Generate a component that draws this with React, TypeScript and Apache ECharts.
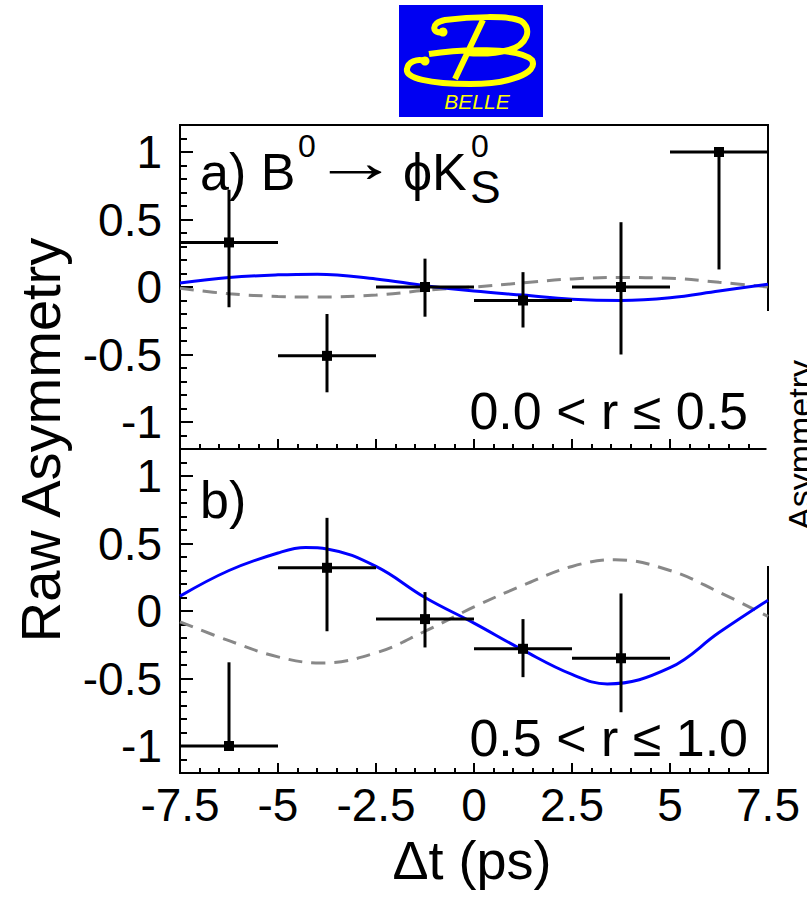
import React, { useEffect, useRef } from "react";
import * as echarts from "echarts";

// ---- data ----
const binCenters = [-6.25, -3.75, -1.25, 1.25, 3.75, 6.25];
const binHalfWidth = 1.25;

const topValues = [0.33, -0.51, 0.0, -0.1, 0.0, 1.0];
const topLower = [-0.15, -0.78, -0.22, -0.3, -0.5, 0.13];
const topUpper = [0.72, -0.2, 0.21, 0.11, 0.48, 1.0];

const bottomValues = [-1.0, 0.32, -0.06, -0.28, -0.35];
const bottomLower = [-1.0, -0.15, -0.27, -0.49, -0.75];
const bottomUpper = [-0.38, 0.69, 0.14, -0.06, 0.13];

const topFitX = [-7.5, -6.25, -5, -4, -2.5, -1.25, 0, 1.25, 2.5, 3.75, 5, 6.25, 7.5];
const topFitY = [0.03, 0.07, 0.09, 0.095, 0.06, 0.01, -0.03, -0.06, -0.09, -0.1, -0.08, -0.03, 0.02];
const topNullX = [-7.5, -6.25, -5, -4, -2.5, -1.25, 0, 1.25, 2.5, 3.75, 5, 6.25, 7.5];
const topNullY = [-0.01, -0.05, -0.07, -0.075, -0.06, -0.025, 0.0, 0.03, 0.06, 0.07, 0.065, 0.035, 0.0];

const bottomFitX = [-7.5, -6.25, -5, -4.3, -3.75, -2.5, -1.25, 0, 1.25, 2.5, 3.4, 5, 6.25, 7.5];
const bottomFitY = [0.11, 0.3, 0.43, 0.47, 0.46, 0.33, 0.1, -0.09, -0.29, -0.47, -0.54, -0.42, -0.16, 0.08];
const bottomNullX = [-7.5, -6.25, -5, -3.9, -2.5, -1.25, 0, 1.25, 2.5, 3.6, 5, 6.25, 7.5];
const bottomNullY = [-0.08, -0.22, -0.34, -0.385, -0.31, -0.15, 0.03, 0.19, 0.33, 0.38, 0.3, 0.14, -0.04];

const yMajorTicks = [-1, -0.5, 0, 0.5, 1];
const yMinorTicks = [-1.1, -0.9, -0.8, -0.7, -0.6, -0.4, -0.3, -0.2, -0.1, 0.1, 0.2, 0.3, 0.4, 0.6, 0.7, 0.8, 0.9, 1.1];

const FONT = '"Liberation Sans", Arial, Helvetica, sans-serif';

const belleD =
  "M 44 27 C 34 30, 30 18, 46 15 C 70 12, 110 10, 122 16 C 134 24, 128 40, 110 45 C 95 49, 80 49, 68 48 " +
  "M 84 15 L 56 74 " +
  "M 30 49 C 60 44, 120 42, 133 55 C 140 68, 110 79, 71 79 C 30 79, 6 73, 8 64 C 9 57, 18 53, 26 56";

let registered = false;

function zip(xs: number[], ys: number[]) {
  return xs.map((x, i) => [x, ys[i]]);
}

function errRows(centers: number[], vals: number[], lo: number[], hi: number[]) {
  return vals.map((v, i) => [centers[i], v, centers[i] - binHalfWidth, centers[i] + binHalfWidth, lo[i], hi[i]]);
}

const renderErr = (params: any, api: any) => {
  const x = api.value(0), y = api.value(1);
  const p = api.coord([x, y]);
  const pl = api.coord([api.value(2), y]);
  const ph = api.coord([api.value(3), y]);
  const pyl = api.coord([x, api.value(4)]);
  const pyh = api.coord([x, api.value(5)]);
  const st = { stroke: "#000", lineWidth: 3 };
  return {
    type: "group",
    children: [
      { type: "line", shape: { x1: pl[0], y1: p[1], x2: ph[0], y2: p[1] }, style: st },
      { type: "line", shape: { x1: p[0], y1: pyl[1], x2: p[0], y2: pyh[1] }, style: st },
      { type: "rect", shape: { x: p[0] - 5, y: p[1] - 5, width: 10, height: 10 }, style: { fill: "#000" } },
    ],
  };
};

function xAxisCfg(gridIndex: number, showLabels: boolean) {
  return {
    type: "value",
    gridIndex,
    min: -7.5,
    max: 7.5,
    interval: 2.5,
    position: "bottom",
    axisLine: { show: false, onZero: false },
    axisTick: { show: true, inside: true, length: 10, lineStyle: { color: "#000", width: 2 } },
    minorTick: { show: true, splitNumber: 5, length: 5, lineStyle: { color: "#000", width: 2 } },
    splitLine: { show: false },
    minorSplitLine: { show: false },
    axisLabel: {
      show: showLabels,
      fontSize: 46,
      fontFamily: FONT,
      color: "#000",
      margin: 9,
      showMinLabel: true,
      showMaxLabel: true,
      hideOverlap: false,
    },
  };
}

function yAxesCfg(gridIndex: number) {
  return [
    {
      type: "value",
      gridIndex,
      min: -1.2,
      max: 1.2,
      position: "left",
      axisLine: { show: false, onZero: false },
      splitLine: { show: false },
      axisTick: { show: true, inside: true, length: 13, customValues: yMajorTicks, lineStyle: { color: "#000", width: 2 } },
      axisLabel: { show: true, customValues: yMajorTicks, fontSize: 46, fontFamily: FONT, color: "#000", margin: 18 },
    },
    {
      type: "value",
      gridIndex,
      min: -1.2,
      max: 1.2,
      position: "left",
      axisLine: { show: false, onZero: false },
      splitLine: { show: false },
      axisTick: { show: true, inside: true, length: 7, customValues: yMinorTicks, lineStyle: { color: "#000", width: 2 } },
      axisLabel: { show: false },
    },
  ];
}

function txt(text: string, x: number, y: number, size: number, extra: any = {}) {
  return {
    type: "text",
    x,
    y,
    z: 20,
    style: {
      text,
      fontSize: size,
      fontFamily: FONT,
      fill: "#000",
      align: "left",
      verticalAlign: "middle",
      ...(extra.style || {}),
    },
    ...(extra.el || {}),
  };
}

function curve(xi: number, yi: number, xs: number[], ys: number[], dashed: boolean) {
  return {
    type: "line",
    xAxisIndex: xi,
    yAxisIndex: yi,
    data: zip(xs, ys),
    smooth: 0.4,
    showSymbol: false,
    symbol: "none",
    lineStyle: dashed ? { color: "#888", width: 3, type: [14, 9] } : { color: "#0000ff", width: 3 },
    z: dashed ? 2 : 3,
  };
}

export default function App() {
  const ref = useRef<HTMLDivElement>(null);
  useEffect(() => {
    if (!ref.current) return;
    if (!registered) {
      echarts.graphic.registerShape("belleB", echarts.graphic.extendPath(belleD, {}));
      registered = true;
    }
    const chart = echarts.init(ref.current, null, { renderer: "svg" });
    const grids = [
      { left: 180, top: 125, width: 588, height: 324 },
      { left: 180, top: 449, width: 588, height: 324 },
    ].map((g) => ({ ...g, show: true, borderColor: "#000", borderWidth: 2, backgroundColor: "transparent", containLabel: false, outerBoundsMode: "none" }));

    const option: any = {
      animation: false,
      backgroundColor: "#fff",
      grid: grids,
      xAxis: [xAxisCfg(0, false), xAxisCfg(1, true)],
      yAxis: [...yAxesCfg(0), ...yAxesCfg(1)],
      series: [
        curve(0, 0, topNullX, topNullY, true),
        curve(0, 0, topFitX, topFitY, false),
        {
          type: "custom", xAxisIndex: 0, yAxisIndex: 0, renderItem: renderErr, z: 5,
          data: errRows(binCenters, topValues, topLower, topUpper), encode: { x: [0, 2, 3], y: [1, 4, 5] },
        },
        curve(1, 2, bottomNullX, bottomNullY, true),
        curve(1, 2, bottomFitX, bottomFitY, false),
        {
          type: "custom", xAxisIndex: 1, yAxisIndex: 2, renderItem: renderErr, z: 5,
          data: errRows(binCenters, bottomValues, bottomLower, bottomUpper), encode: { x: [0, 2, 3], y: [1, 4, 5] },
        },
      ],
      graphic: [
        // Belle logo
        { type: "rect", z: 20, shape: { x: 399, y: 5, width: 144, height: 112 }, style: { fill: "#0000f2" } },
        { type: "belleB", z: 21, x: 399, y: 5, style: { stroke: "#ffff00", lineWidth: 6, fill: null } },
        { type: "circle", z: 21, shape: { cx: 399 + 44, cy: 5 + 27, r: 4.5 }, style: { fill: "#ffff00" } },
        { type: "circle", z: 21, shape: { cx: 399 + 26, cy: 5 + 56, r: 4.5 }, style: { fill: "#ffff00" } },
        txt("BELLE", 477, 101, 21, { style: { fill: "#ffff00", fontStyle: "italic", align: "center" }, el: { z: 21 } }),
        // panel a label
        txt("a) B", 200, 172, 52),
        txt("0", 298, 146, 32),
        txt("\u2192", 312, 162, 58, { el: { scaleX: 1.5 } }),
        txt("\u03d5K", 403, 172, 52),
        txt("0", 471, 146, 32),
        txt("S", 470, 187, 46),
        txt("0.0 < r \u2264 0.5", 748, 411, 52, { style: { align: "right" } }),
        // panel b
        txt("b)", 200, 500, 52),
        txt("0.5 < r \u2264 1.0", 748, 738, 52, { style: { align: "right" } }),
        // axis titles
        txt("Raw Asymmetry", 40, 440, 56, { style: { align: "center" }, el: { rotation: Math.PI / 2 } }),
        txt("\u0394t (ps)", 472, 860, 54, { style: { align: "center" } }),
        // neighbouring figure overlap at the right edge
        { type: "rect", z: 30, shape: { x: 766.5, y: 311, width: 41, height: 255 }, style: { fill: "#fff" } },
        txt("Asymmetry", 800, 445, 34, { style: { align: "center" }, el: { rotation: Math.PI / 2, z: 31 } }),
      ],
    };
    chart.setOption(option);
    return () => chart.dispose();
  }, []);
  return (
    <div
      ref={ref}
      style={{ position: "absolute", left: 0, top: 0, width: 807, height: 900, background: "#fff" }}
    />
  );
}
